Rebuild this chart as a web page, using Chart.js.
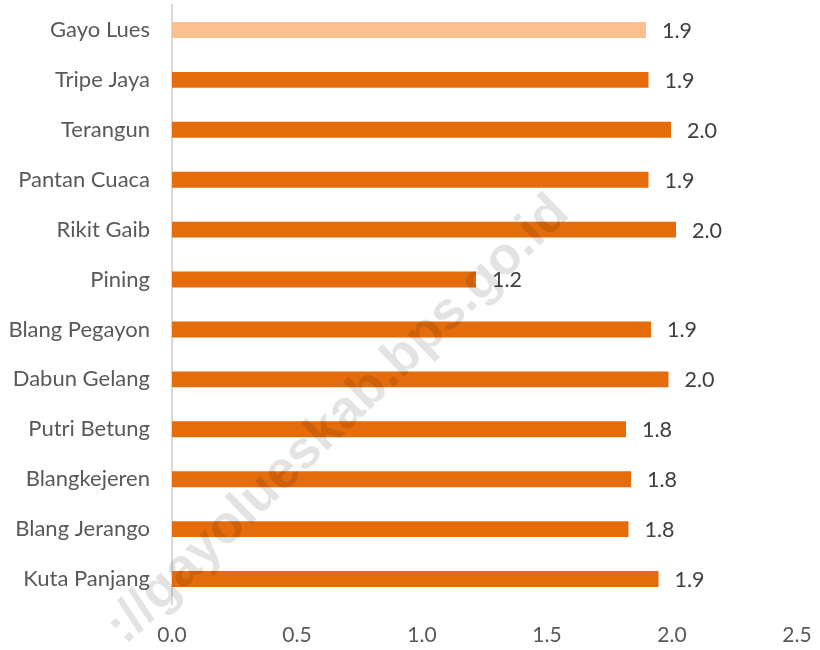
<!DOCTYPE html>
<html>
<head>
<meta charset="utf-8">
<script src="https://cdn.jsdelivr.net/npm/chart.js@4.4.1/dist/chart.umd.min.js"></script>
<style>
  html, body { margin: 0; padding: 0; background: #ffffff; }
  #wrap { width: 820px; height: 650px; position: relative; }
</style>
</head>
<body>
<div id="wrap"><canvas id="c"></canvas></div>
<script>
const categories = ["Gayo Lues", "Tripe Jaya", "Terangun", "Pantan Cuaca", "Rikit Gaib", "Pining",
  "Blang Pegayon", "Dabun Gelang", "Putri Betung", "Blangkejeren", "Blang Jerango", "Kuta Panjang"];
const values = [1.90, 1.91, 2.00, 1.91, 2.02, 1.22, 1.92, 1.99, 1.82, 1.84, 1.83, 1.95];
const xTicks = [0, 0.5, 1.0, 1.5, 2.0, 2.5];
const barColors = categories.map((c, i) => i === 0 ? "#FAC090" : "#E46C0A");
const watermarkText = "://gayolueskab.bps.go.id";

const FONT = "Lato, 'Open Sans', sans-serif";

const valueLabels = {
  id: "valueLabels",
  afterDatasetsDraw(chart) {
    const ctx = chart.ctx;
    const meta = chart.getDatasetMeta(0);
    ctx.save();
    ctx.font = "21.5px " + FONT;
    ctx.fillStyle = "#404040";
    ctx.textAlign = "left";
    ctx.textBaseline = "middle";
    meta.data.forEach((bar, i) => {
      ctx.fillText(values[i].toFixed(1), bar.x + 15, bar.y + 1);
    });
    ctx.restore();
  }
};

const watermark = {
  id: "watermark",
  afterDraw(chart) {
    const ctx = chart.ctx;
    ctx.save();
    ctx.translate(338, 420);
    ctx.rotate(-44 * Math.PI / 180);
    let size = 44;
    const fam = "'Liberation Sans', Arial, sans-serif";
    ctx.font = "bold " + size + "px " + fam;
    const w = ctx.measureText(watermarkText).width;
    size = size * 620 / w;
    ctx.font = "bold " + size.toFixed(1) + "px " + fam;
    ctx.fillStyle = "rgba(0,0,0,0.11)";
    ctx.textAlign = "center";
    ctx.textBaseline = "middle";
    ctx.fillText(watermarkText, 0, 0);
    ctx.restore();
  }
};

new Chart(document.getElementById("c"), {
  type: "bar",
  data: {
    labels: categories,
    datasets: [{
      data: values,
      backgroundColor: barColors,
      borderColor: "rgba(255,255,255,0.3)",
      borderWidth: 1,
      barPercentage: 0.36,
      categoryPercentage: 1.0
    }]
  },
  options: {
    indexAxis: "y",
    responsive: true,
    maintainAspectRatio: false,
    animation: false,
    layout: { padding: { top: 5, right: 23, left: 0, bottom: 0 } },
    plugins: { legend: { display: false }, tooltip: { enabled: false } },
    scales: {
      x: {
        min: 0, max: 2.5,
        afterBuildTicks(scale) { scale.ticks = xTicks.map(v => ({ value: v })); },
        afterFit(scale) { scale.height = 46; scale.paddingLeft = 0; scale.paddingRight = 0; },
        grid: { display: false, drawTicks: false },
        border: { display: false },
        ticks: {
          padding: 19,
          color: "#595959",
          font: { family: FONT, size: 21 },
          callback: (v) => Number(v).toFixed(1)
        }
      },
      y: {
        afterFit(scale) { scale.width = 172; scale.paddingTop = 0; scale.paddingBottom = 0; },
        grid: { display: false, drawTicks: false },
        border: { display: true, color: "#d9d9d9", width: 2 },
        ticks: {
          padding: 22,
          color: "#595959",
          font: { family: FONT, size: 22 }
        }
      }
    }
  },
  plugins: [valueLabels, watermark]
});
</script>
</body>
</html>
